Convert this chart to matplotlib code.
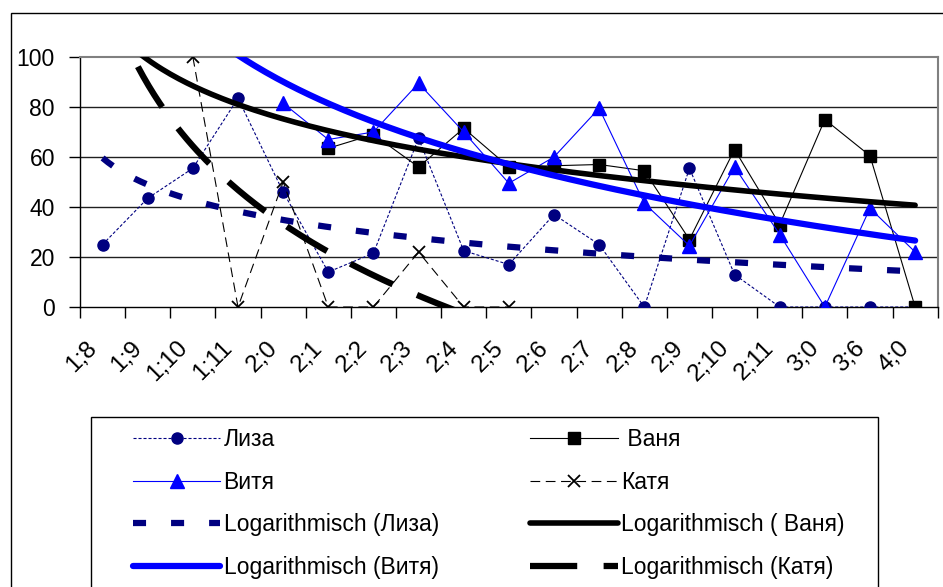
import numpy as np
import matplotlib
matplotlib.use("Agg")
import matplotlib.pyplot as plt
from matplotlib.lines import Line2D
from matplotlib.patches import Rectangle
from matplotlib.transforms import ScaledTranslation

plt.rcParams["font.family"] = ["Liberation Sans", "DejaVu Sans"]
plt.rcParams["lines.scale_dashes"] = False

ages = ["1;8", "1;9", "1;10", "1;11", "2;0", "2;1", "2;2", "2;3", "2;4", "2;5",
        "2;6", "2;7", "2;8", "2;9", "2;10", "2;11", "3;0", "3;6", "4;0"]
N = None
liza = [25, 43.5, 55.5, 83.5, 46, 14, 21.5, 67.5, 22.5, 17,
        37, 25, 0, 55.5, 13, 0, 0, 0, 0]
vanya = [N, N, N, N, N, 63.5, 69, 56, 71.5, 56,
         56.5, 57, 54.5, 27, 63, 33, 75, 60.5, 0]
vitya = [N, N, N, N, 81.5, 67, 70, 89.5, 70, 49.5,
         60, 79.5, 41.5, 24.5, 56, 29, 0, 39.5, 22]
katya = [N, N, 100, 0, 50, 0, 0, 22, 0, 0,
         N, N, N, N, N, N, N, N, N]


def arr(v):
    return np.array([np.nan if a is None else a for a in v], dtype=float)


def log_trend(v, xs):
    # Excel-style logarithmic trendline over category index 1..n
    y = arr(v)
    idx = np.arange(1, len(y) + 1)
    ok = ~np.isnan(y)
    a, b = np.polyfit(np.log(idx[ok]), y[ok], 1)
    return a * np.log(xs) + b


W, H = 943, 587
fig = plt.figure(figsize=(W / 100, H / 100), dpi=100)
ax = fig.add_axes([80 / W, 1 - 307 / H, (937.7 - 80) / W, 250 / H])

x = np.arange(len(ages))
NAVY, BLUE = "#000080", "#0000ff"

ax.plot(x, arr(liza), color=NAVY, lw=0.8, dashes=(2.2, 1.4), marker="o",
        ms=8, mfc=NAVY, mec=NAVY, zorder=3)
ax.plot(x, arr(vanya), color="black", lw=0.8, marker="s", ms=8,
        mfc="black", mec="black", zorder=3)
ax.plot(x, arr(vitya), color=BLUE, lw=0.8, marker="^", ms=10,
        mfc=BLUE, mec=BLUE, zorder=3)
ax.plot(x, arr(katya), color="black", lw=0.8, dashes=(7, 4), marker="x",
        ms=9, mew=1.3, mec="black", zorder=3)

xs = np.linspace(1, len(ages), 300)
tr_liza = dict(color=NAVY, lw=4.5, dashes=(9.4, 18))
tr_vanya = dict(color="black", lw=4, solid_capstyle="round")
tr_vitya = dict(color=BLUE, lw=4.5, solid_capstyle="round")
tr_katya = dict(color="black", lw=4.5, dashes=(34, 19))
ax.plot(xs - 1, log_trend(liza, xs), zorder=4, **tr_liza)
ax.plot(xs - 1, log_trend(vanya, xs), zorder=4, **tr_vanya)
ax.plot(xs - 1, log_trend(vitya, xs), zorder=4, **tr_vitya)
ax.plot(xs - 1, log_trend(katya, xs), zorder=4, **tr_katya)

ax.set_xlim(-0.5, len(ages) - 0.5)
ax.set_ylim(0, 100)
ax.set_yticks([0, 20, 40, 60, 80, 100])
for yv in [20, 40, 60, 80]:
    ax.axhline(yv, color="#202020", lw=1, zorder=1)

ax.set_xticks(x)
ax.set_xticks(np.arange(-0.5, len(ages)), minor=True)
ax.tick_params(axis="x", which="major", length=0, pad=27, labelsize=17.5)
ax.tick_params(axis="x", which="minor", length=8, width=1, color="black")
ax.tick_params(axis="y", length=8, width=1, pad=10, labelsize=16.5)
ax.set_xticklabels(ages, rotation=45, ha="right", va="center",
                   rotation_mode="anchor")
off = ScaledTranslation(-9 / 100, 0, fig.dpi_scale_trans)
for lab in ax.get_xticklabels():
    lab.set_transform(lab.get_transform() + off)

for s in ["top", "right"]:
    ax.spines[s].set_color("#808080")
    ax.spines[s].set_linewidth(1.5)
for s in ["left", "bottom"]:
    ax.spines[s].set_color("black")
    ax.spines[s].set_linewidth(1)

# chart area border and legend box (both run off the picture edge)
fig.add_artist(Rectangle((11 / W, -0.2), 1.2, 1.2 - 13 / H,
                         transform=fig.transFigure, fill=False,
                         ec="black", lw=1))
fig.add_artist(Rectangle((90.7 / W, -0.2), (877.7 - 90.7) / W, 1.2 - 417 / H,
                         transform=fig.transFigure, fill=False,
                         ec="black", lw=1))

handles = [
    Line2D([], [], color=NAVY, lw=0.8, dashes=(2.2, 1.4), marker="o", ms=8),
    Line2D([], [], color=BLUE, lw=0.8, marker="^", ms=10),
    Line2D([], [], **tr_liza),
    Line2D([], [], **tr_vitya),
    Line2D([], [], color="black", lw=0.8, marker="s", ms=8),
    Line2D([], [], color="black", lw=0.8, dashes=(7, 4), marker="x", ms=9,
           mew=1.3),
    Line2D([], [], **tr_vanya),
    Line2D([], [], **tr_katya),
]
labels = ["Лиза", "Витя", "Logarithmisch (Лиза)", "Logarithmisch (Витя)",
          " Ваня", "Катя", "Logarithmisch ( Ваня)", "Logarithmisch (Катя)"]
fig.legend(handles, labels, ncol=2, loc="upper left",
           bbox_to_anchor=(133 / W, 1 - 428 / H), frameon=False,
           fontsize=16.5, handlelength=3.8, handletextpad=0.15,
           columnspacing=4.0, labelspacing=0.86, borderpad=0,
           borderaxespad=0)

fig.savefig("out.png", dpi=100)
